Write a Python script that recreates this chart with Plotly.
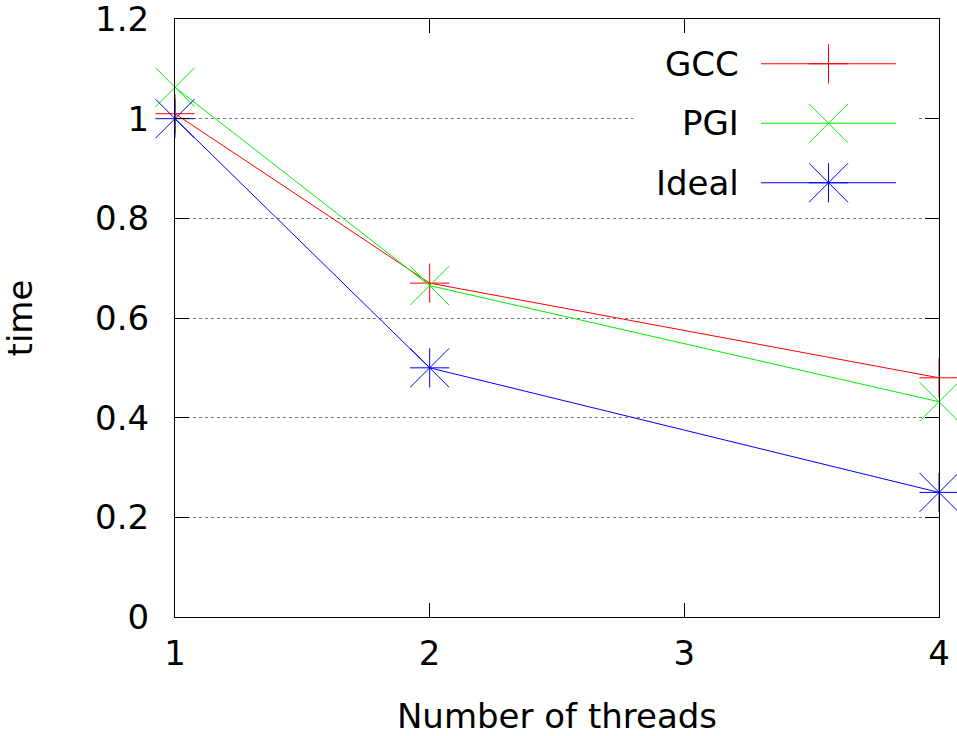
import plotly.graph_objects as go

threads = [1, 2, 4]
series_names = ["GCC", "PGI", "Ideal"]
gcc_time = [1.01, 0.67, 0.48]
pgi_time = [1.063, 0.665, 0.432]
ideal_time = [1.0, 0.5, 0.25]
x_ticks = [1, 2, 3, 4]
x_tick_labels = ["1", "2", "3", "4"]
y_ticks = [0, 0.2, 0.4, 0.6, 0.8, 1.0, 1.2]
y_tick_labels = ["0", "0.2", "0.4", "0.6", "0.8", "1", "1.2"]

colors = ["#ff0000", "#00f000", "#0000ff"]
FONT = "DejaVu Sans"
FS = 34

fig = go.Figure()

# main data
for name, ys, col, sym, size in [
    ("GCC", gcc_time, colors[0], "cross-thin", 28),
    ("PGI", pgi_time, colors[1], "x-thin", 39),
    ("Ideal", ideal_time, colors[2], "cross-thin", 28),
]:
    fig.add_trace(go.Scatter(
        x=threads, y=ys, mode="lines+markers", name=name, showlegend=False,
        line=dict(color=col, width=1),
        marker=dict(symbol=sym, size=size, line=dict(color=col, width=1), color=col),
        cliponaxis=False,
    ))
    if name == "Ideal":
        fig.add_trace(go.Scatter(
            x=threads, y=ys, mode="markers", showlegend=False,
            marker=dict(symbol="x-thin", size=39, line=dict(color=col, width=1), color=col),
            cliponaxis=False,
        ))

# custom gnuplot-style key (text left of sample)
legend_syms = [["cross-thin"], ["x-thin"], ["cross-thin", "x-thin"]]
for i, name in enumerate(series_names):
    col = colors[i]
    fig.add_trace(go.Scatter(
        x=[0, 1], y=[i, i], mode="lines", showlegend=False,
        line=dict(color=col, width=1), xaxis="x2", yaxis="y2", hoverinfo="skip",
        cliponaxis=False,
    ))
    for sym in legend_syms[i]:
        fig.add_trace(go.Scatter(
            x=[0.5], y=[i], mode="markers", showlegend=False, xaxis="x2", yaxis="y2",
            marker=dict(symbol=sym, size=28 if sym == "cross-thin" else 39,
                        line=dict(color=col, width=1), color=col),
            hoverinfo="skip", cliponaxis=False,
        ))
    fig.add_annotation(
        x=(741 - 175) / 764, xref="paper", y=i, yref="y2",
        text=name, showarrow=False, xanchor="right", yanchor="middle",
        font=dict(family=FONT, size=FS, color="black"),
    )

# white key box hiding grid
fig.add_shape(type="rect", xref="x", yref="y", x0=2.80, x1=3.914, y0=0.83, y1=1.155,
              fillcolor="white", line=dict(width=0), layer="between")

axis_common = dict(
    showline=True, linecolor="black", linewidth=1, mirror="allticks",
    ticks="inside", ticklen=14, tickcolor="black", tickwidth=1,
    tickfont=dict(family=FONT, size=FS, color="black"),
    zeroline=False, automargin=False, ticklabeloverflow="allow",
)

fig.update_layout(
    width=957, height=736,
    margin=dict(l=175, r=18, t=19, b=119),
    paper_bgcolor="white", plot_bgcolor="white",
    showlegend=False,
    font=dict(family=FONT, size=FS, color="black"),
    xaxis=dict(
        range=[1, 4], tickvals=x_ticks, ticktext=x_tick_labels, showgrid=False,
        ticklabelstandoff=6,
        title=dict(text="Number of threads", font=dict(family=FONT, size=FS), standoff=37),
        **axis_common,
    ),
    yaxis=dict(
        range=[0, 1.2], tickvals=y_ticks, ticktext=y_tick_labels,
        showgrid=True, gridcolor="#777777", griddash="dot", gridwidth=1,
        ticklabelstandoff=18,
        title=dict(text="time", font=dict(family=FONT, size=FS), standoff=52),
        **axis_common,
    ),
    xaxis2=dict(domain=[(761 - 175) / 764, (896 - 175) / 764], range=[0, 1], visible=False,
                anchor="y2", fixedrange=True),
    yaxis2=dict(domain=[(617 - 212.5) / 598, (617 - 34.0) / 598], range=[2.5, -0.5],
                visible=False, anchor="x2", fixedrange=True),
)

fig.write_html("out.html")
